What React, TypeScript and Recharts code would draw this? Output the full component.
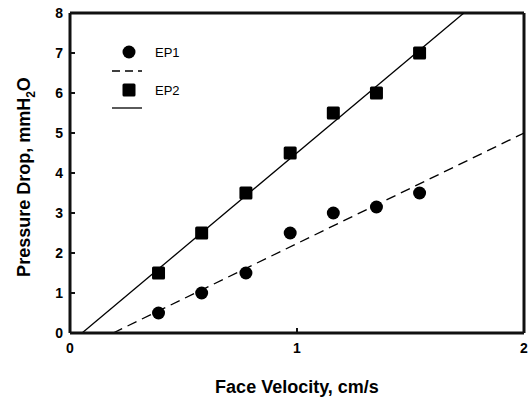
import React from "react";
import {
  ComposedChart,
  Scatter,
  Line,
  XAxis,
  YAxis,
  Label,
  ReferenceLine,
} from "recharts";

const velocity = [0.39, 0.58, 0.775, 0.97, 1.16, 1.35, 1.54];
const ep1 = [0.5, 1.0, 1.5, 2.5, 3.0, 3.15, 3.5];
const ep2 = [1.5, 2.5, 3.5, 4.5, 5.5, 6.0, 7.0];
const ep1FitX = [0.19, 2.0];
const ep1FitY = [0, 5.0];
const ep2FitX = [0.053, 1.735];
const ep2FitY = [0, 8.0];
const xTicks = [0, 1, 2];
const yTicks = [0, 1, 2, 3, 4, 5, 6, 7, 8];

const ep1Data = velocity.map((x, i) => ({ x, y: ep1[i] }));
const ep2Data = velocity.map((x, i) => ({ x, y: ep2[i] }));
const ep1Fit = ep1FitX.map((x, i) => ({ x, y: ep1FitY[i] }));
const ep2Fit = ep2FitX.map((x, i) => ({ x, y: ep2FitY[i] }));

const FONT = "'Liberation Sans', Arial, sans-serif";
const INK = "#111";

const Circle = (props: any) => (
  <circle cx={props.cx} cy={props.cy} r={6.5} fill="#000" />
);
const Square = (props: any) => (
  <rect x={props.cx - 6.5} y={props.cy - 6.5} width={13} height={13} rx={1.5} fill="#000" />
);

const YTick = (props: any) => {
  const { x, y, payload } = props;
  return (
    <g>
      <path d={`M${x + 7},${y}h5`} stroke={INK} strokeWidth={2} fill="none" />
      <text x={x} y={y} dy={5} textAnchor="end" fontFamily={FONT} fontWeight="bold" fontSize={14} fill="#000">
        {payload.value}
      </text>
    </g>
  );
};

const XTick = (props: any) => {
  const { x, y, payload } = props;
  return (
    <g>
      <path d={`M${x},${y - 14}v-5`} stroke={INK} strokeWidth={2} fill="none" />
      <text x={x} y={y} dy={6} textAnchor="middle" fontFamily={FONT} fontWeight="bold" fontSize={14} fill="#000">
        {payload.value}
      </text>
    </g>
  );
};

const LegendBox = () => (
  <svg
    width={80}
    height={75}
    style={{ position: "absolute", left: 112, top: 44, display: "block", pointerEvents: "none" }}
  >
    <circle cx={17} cy={8} r={6.5} fill="#000" />
    <text x={43} y={13} fontFamily={FONT} fontSize={13} fill="#000">EP1</text>
    <line x1={0} x2={30} y1={27} y2={27} stroke="#000" strokeWidth={1.3} strokeDasharray="8 5" />
    <rect x={10.5} y={39.5} width={13} height={13} rx={1.5} fill="#000" />
    <text x={43} y={51} fontFamily={FONT} fontSize={13} fill="#000">EP2</text>
    <line x1={0} x2={30} y1={64} y2={64} stroke="#000" strokeWidth={1.3} />
  </svg>
);

const YLabel = (props: any) => {
  const vb = props.viewBox || {};
  const cy = vb.y + vb.height / 2 + 4;
  const cx = 30;
  return (
    <text
      transform={`translate(${cx},${cy}) rotate(-90)`}
      textAnchor="middle"
      fontFamily={FONT}
      fontWeight="bold"
      fontSize={18}
      fill="#000"
    >
      Pressure Drop, mmH
      <tspan fontSize={12} dy={5}>2</tspan>
      <tspan dy={-5}>O</tspan>
    </text>
  );
};

export default function App() {
  return (
    <div style={{ position: "absolute", left: 0, top: 0, width: 528, height: 405, background: "#fff" }}>
      <ComposedChart
        width={528}
        height={405}
        margin={{ top: 13, right: 4, bottom: 0, left: 0 }}
      >
        <XAxis
          xAxisId="b"
          type="number"
          dataKey="x"
          domain={[0, 2]}
          ticks={xTicks}
          height={72}
          axisLine={{ stroke: INK, strokeWidth: 3 }}
          tickLine={false}
          tickSize={0}
          tickMargin={14}
          tick={<XTick />}
          allowDataOverflow
        >
          <Label
            value="Face Velocity, cm/s"
            position="insideBottom"
            offset={12}
            style={{ fontFamily: FONT, fontWeight: "bold", fontSize: 18, fill: "#000" }}
          />
        </XAxis>
        <YAxis
          yAxisId="l"
          type="number"
          dataKey="y"
          domain={[0, 8]}
          ticks={yTicks}
          width={70}
          axisLine={{ stroke: INK, strokeWidth: 3 }}
          tickLine={false}
          tickSize={0}
          tickMargin={7}
          tick={<YTick />}
          allowDataOverflow
        >
          <Label content={<YLabel />} />
        </YAxis>
        <ReferenceLine xAxisId="b" yAxisId="l" x={2} stroke={INK} strokeWidth={3} ifOverflow="visible" />
        <ReferenceLine xAxisId="b" yAxisId="l" y={8} stroke={INK} strokeWidth={3} ifOverflow="visible" />
        <Line
          xAxisId="b"
          yAxisId="l"
          data={ep1Fit}
          dataKey="y"
          stroke="#000"
          strokeWidth={1.3}
          strokeDasharray="10 6"
          dot={false}
          activeDot={false}
          isAnimationActive={false}
          legendType="none"
        />
        <Line
          xAxisId="b"
          yAxisId="l"
          data={ep2Fit}
          dataKey="y"
          stroke="#000"
          strokeWidth={1.3}
          dot={false}
          activeDot={false}
          isAnimationActive={false}
          legendType="none"
        />
        <Scatter
          xAxisId="b"
          yAxisId="l"
          data={ep1Data}
          dataKey="y"
          name="EP1"
          shape={<Circle />}
          isAnimationActive={false}
        />
        <Scatter
          xAxisId="b"
          yAxisId="l"
          data={ep2Data}
          dataKey="y"
          name="EP2"
          shape={<Square />}
          isAnimationActive={false}
        />
      </ComposedChart>
      <LegendBox />
    </div>
  );
}
